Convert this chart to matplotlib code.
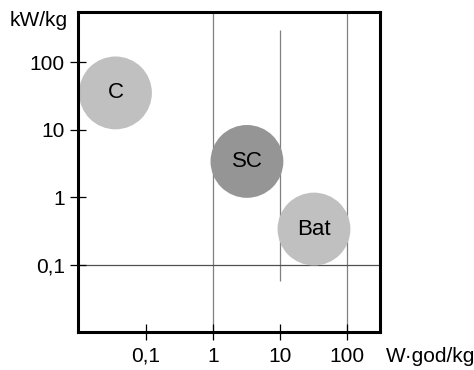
import matplotlib.pyplot as plt

plt.rcParams['font.family'] = ['Liberation Sans', 'DejaVu Sans']

# Ragone-like chart: specific energy vs specific power
labels = ['C', 'SC', 'Bat']
energy = [0.035, 3.2, 32]      # W·god/kg
power = [35, 3.4, 0.34]        # kW/kg
colors = ['#c0c0c0', '#959595', '#c0c0c0']

tick_vals = [0.1, 1, 10, 100]
tick_text = ['0,1', '1', '10', '100']

fig = plt.figure(figsize=(4.74, 3.70), dpi=100)
ax = fig.add_axes([78 / 474, 38 / 370, 302 / 474, 320 / 370])
ax.set_xscale('log')
ax.set_yscale('log')
ax.set_xlim(10 ** -2.015, 10 ** 2.49)
ax.set_ylim(10 ** -1.99, 10 ** 2.74)

# reference lines
ax.axvline(1, color='#808080', lw=0.9, zorder=1)
ax.axvline(100, color='#808080', lw=0.9, zorder=1)
ax.vlines(10, 0.058, 300, color='#808080', lw=0.9, zorder=1)
ax.axhline(0.1, color='#505050', lw=0.9, zorder=1)

ax.scatter(energy, power, s=2750, c=colors, edgecolors='none', zorder=2)
for e, p, t in zip(energy, power, labels):
    ax.text(e, p, t, ha='center', va='center', fontsize=16, zorder=3)

ax.set_xticks(tick_vals)
ax.set_xticklabels(tick_text)
ax.set_yticks(tick_vals)
ax.set_yticklabels(tick_text)
ax.minorticks_off()
ax.tick_params(direction='inout', length=11, width=0.9, labelsize=15, pad=4)
ax.tick_params(axis='x', pad=5)
for s in ax.spines.values():
    s.set_linewidth(2.2)

fig.text(10 / 474, 1 - 21 / 370, 'kW/kg', fontsize=15, va='center', ha='left')
fig.text(386 / 474, 1 - 356 / 370, 'W·god/kg', fontsize=15, va='center', ha='left')

fig.savefig('out.png', dpi=100)
